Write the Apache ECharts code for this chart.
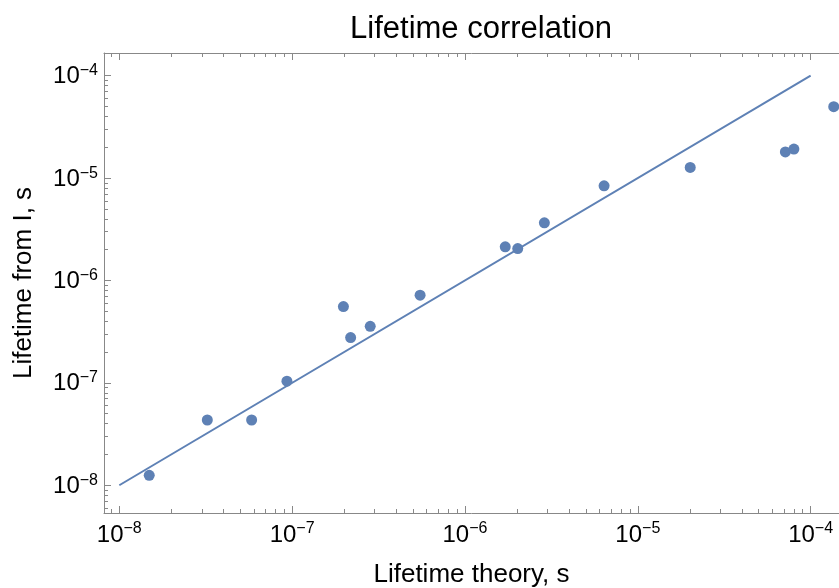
<!DOCTYPE html>
<html>
<head>
<meta charset="utf-8">
<script src="https://cdn.jsdelivr.net/npm/echarts@6/dist/echarts.min.js"></script>
<style>html,body{margin:0;padding:0;background:#fff}#c{width:839px;height:588px}</style>
</head>
<body>
<div id="c"></div>
<script>
// ---- data ----
const lifetimeTheory = [1.49e-8, 3.23e-8, 5.83e-8, 9.33e-8, 1.98e-7, 2.18e-7, 2.83e-7, 5.50e-7,
  1.71e-6, 2.02e-6, 2.88e-6, 6.38e-6, 2.01e-5, 7.14e-5, 8.00e-5, 1.36e-4];
const lifetimeFromI = [1.25e-8, 4.34e-8, 4.34e-8, 1.04e-7, 5.56e-7, 2.77e-7, 3.57e-7, 7.18e-7,
  2.13e-6, 2.05e-6, 3.66e-6, 8.41e-6, 1.27e-5, 1.80e-5, 1.92e-5, 4.98e-5];
const lineX = [1e-8, 1e-4];
const lineY = [1e-8, 1e-4];
const minorTicks = [];
for (let n = -9; n <= -4; n++) for (let k = 2; k <= 9; k++) minorTicks.push(k * Math.pow(10, n));

const xMin = 8.156e-9, xMax = 1.459e-4;
const yMin = 5.358e-9, yMax = 1.667e-4;

const FONT = 'Liberation Sans, Arial, sans-serif';
const AX = '#888888';
const C = '#5E81B5';

function fmt(v) {
  const e = Math.log10(v), r = Math.round(e);
  if (Math.abs(e - r) > 1e-6) return '';
  return '{b|10}{s|' + (r < 0 ? '\u2212' : '') + Math.abs(r) + '}';
}
const rich = {
  b: {fontSize: 24, fontFamily: FONT, color: '#000', lineHeight: 26, verticalAlign: 'bottom'},
  s: {fontSize: 16, fontFamily: FONT, color: '#000', lineHeight: 16, verticalAlign: 'top'}
};

function mkAxis(pos, min, max, opts) {
  return Object.assign({
    type: 'log', position: pos, min: min, max: max, logBase: 10,
    axisLine: {show: true, onZero: false, lineStyle: {color: AX, width: 1}},
    axisTick: {show: true, inside: true, length: 7, lineStyle: {color: AX, width: 1}},
    axisLabel: {show: false},
    splitLine: {show: false}, minorTick: {show: false}, minorSplitLine: {show: false}
  }, opts);
}
const minorTickOpt = {show: true, inside: true, length: 4, customValues: minorTicks, lineStyle: {color: AX, width: 1}};

const option = {
  animation: false,
  backgroundColor: '#fff',
  title: {
    text: 'Lifetime correlation', left: 476, top: 9, textAlign: 'center',
    textStyle: {fontFamily: FONT, fontSize: 31, fontWeight: 'normal', color: '#000'}
  },
  grid: {left: 104, right: 0, top: 53, bottom: 75, containLabel: false, outerBoundsMode: 'none'},
  xAxis: [
    mkAxis('bottom', xMin, xMax, {
      name: 'Lifetime theory, s', nameLocation: 'middle', nameGap: 49,
      nameTextStyle: {fontFamily: FONT, fontSize: 26, color: '#000'},
      axisLabel: {show: true, formatter: fmt, rich: rich, margin: 8, showMinLabel: false, showMaxLabel: false, hideOverlap: false}
    }),
    mkAxis('top', xMin, xMax, {}),
    mkAxis('bottom', xMin, xMax, {axisLine: {show: false}, axisTick: minorTickOpt}),
    mkAxis('top', xMin, xMax, {axisLine: {show: false}, axisTick: minorTickOpt})
  ],
  yAxis: [
    mkAxis('left', yMin, yMax, {
      name: 'Lifetime from I, s', nameLocation: 'middle', nameGap: 67,
      nameTextStyle: {fontFamily: FONT, fontSize: 26, color: '#000'},
      axisLabel: {show: true, formatter: fmt, rich: rich, margin: 6, showMinLabel: false, showMaxLabel: false, hideOverlap: false}
    }),
    mkAxis('left', yMin, yMax, {axisLine: {show: false}, axisTick: minorTickOpt})
  ],
  series: [
    {
      type: 'line', xAxisIndex: 0, yAxisIndex: 0, showSymbol: false, symbol: 'none',
      data: lineX.map((x, i) => [x, lineY[i]]),
      lineStyle: {color: C, width: 2}, z: 2
    },
    {
      type: 'scatter', xAxisIndex: 0, yAxisIndex: 0, symbolSize: 11,
      data: lifetimeTheory.map((x, i) => [x, lifetimeFromI[i]]),
      itemStyle: {color: C, opacity: 1}, z: 3
    }
  ]
};
const chart = echarts.init(document.getElementById('c'), null, {renderer: 'canvas'});
chart.setOption(option);
</script>
</body>
</html>
